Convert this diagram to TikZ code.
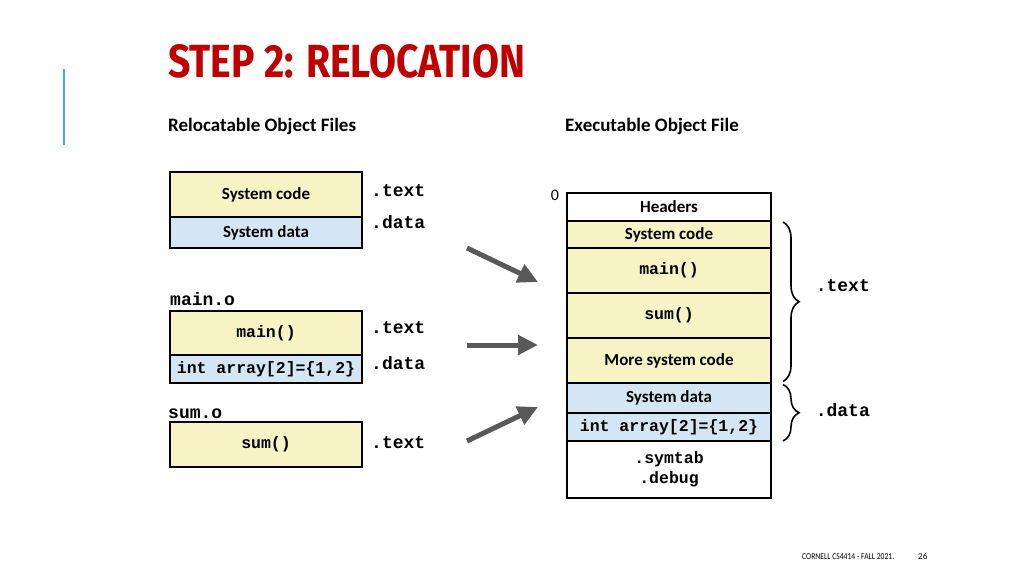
\documentclass[tikz,border=0pt]{standalone}
\usepackage{fontspec}
\setmainfont{Carlito}
\setmonofont{Liberation Mono}
\newfontfamily\titlefont{Fira Sans}
\usetikzlibrary{positioning,arrows.meta,decorations.pathreplacing}

\definecolor{codeyel}{HTML}{F7F3C4}
\definecolor{datablue}{HTML}{D4E6F4}
\definecolor{titlered}{HTML}{C00000}
\definecolor{accent}{HTML}{45AEDC}
\definecolor{arrowgray}{HTML}{595959}

\begin{document}
\begin{tikzpicture}[x=1pt,y=-1pt,
    seg/.style={draw, line width=1.6pt, inner sep=0pt, outer sep=0pt, align=center,
      font=\fontsize{17}{19}\selectfont\bfseries},
    lseg/.style={seg, minimum width=192pt},
    rseg/.style={seg, minimum width=204pt},
    code/.style={fill=codeyel},
    dat/.style={fill=datablue},
    mono/.style={font=\fontsize{16.5}{20}\selectfont\ttfamily\bfseries},
    sec/.style={font=\fontsize{18}{20}\selectfont\ttfamily\bfseries, inner sep=0pt},
    head/.style={font=\fontsize{19}{21}\selectfont\bfseries, inner sep=0pt, anchor=base west},
    brace/.style={decorate, decoration={brace, amplitude=16pt}, line width=1.6pt},
    bigarrow/.style={arrowgray, line width=5pt, -{Triangle[length=20pt,width=19pt]}}]
  \useasboundingbox[fill=white] (0,0) rectangle (1024,576);

  % title bar
  \draw[accent, line width=2pt] (64,69) -- (64,145);
  \node[anchor=north west, inner sep=0pt, text=titlered] (title) at (168,44)
    {\resizebox{357pt}{33pt}{\titlefont\bfseries STEP 2: RELOCATION}};
  \node[head] (relhead) at (168,131) {Relocatable Object Files};
  \node[head] (exehead) at (565,131) {Executable Object File};

  % relocatable object files
  \node[lseg, code, minimum height=45pt] (sysc) at (266,194.5) {System code};
  \node[lseg, dat, minimum height=31pt, below=0pt of sysc] (sysd) {System data};
  \node[sec, anchor=west] (sysct) at (371,191) {.text};
  \node[sec, anchor=west] (sysdd) at (371,222) {.data};

  \node[sec, anchor=base west] (mainlbl) at (170,305) {main.o};
  \node[lseg, code, mono, minimum height=44pt] (mainf) at (266,333) {main()};
  \node[lseg, dat, mono, minimum height=28pt, below=0pt of mainf] (arr) {int array[2]=\{1,2\}};
  \node[sec, anchor=west] (maint) at (371,328) {.text};
  \node[sec, anchor=west] (maind) at (371,363) {.data};

  \node[sec, anchor=base west] (sumlbl) at (168,418) {sum.o};
  \node[lseg, code, mono, minimum height=45pt] (sumf) at (266,444.5) {sum()};
  \node[sec, anchor=west] (sumt) at (371,443) {.text};

  % arrows
  \coordinate (a1s) at (467,248);
  \coordinate (a1e) at (538,282);
  \coordinate (a2s) at (467,345);
  \coordinate (a2e) at (538,345);
  \coordinate (a3s) at (467,441);
  \coordinate (a3e) at (538,407);
  \draw[bigarrow] (a1s) -- (a1e);
  \draw[bigarrow] (a2s) -- (a2e);
  \draw[bigarrow] (a3s) -- (a3e);

  % executable object file
  \node[font=\fontsize{16}{18}\selectfont] (zero) at (555,195) {0};
  \node[rseg, minimum height=28pt] (hdr) at (669,207) {Headers};
  \node[rseg, code, minimum height=27pt, below=0pt of hdr] (rsysc) {System code};
  \node[rseg, code, mono, minimum height=45pt, below=0pt of rsysc] (rmain) {main()};
  \node[rseg, code, mono, minimum height=45pt, below=0pt of rmain] (rsum) {sum()};
  \node[rseg, code, minimum height=45pt, below=0pt of rsum] (rmore) {More system code};
  \node[rseg, dat, minimum height=30pt, below=0pt of rmore] (rsysd) {System data};
  \node[rseg, dat, mono, minimum height=28pt, below=0pt of rsysd] (rarr) {int array[2]=\{1,2\}};
  \node[rseg, mono, minimum height=57pt, below=0pt of rarr] (rsym) {.symtab\\.debug};

  \draw[brace] ([xshift=12pt,yshift=-1pt]rsysc.north east) -- ([xshift=12pt,yshift=1.5pt]rmore.south east)
    node[sec, midway, anchor=west, xshift=32pt, yshift=16pt] (textlbl) {.text};
  \draw[brace] ([xshift=12pt,yshift=-1.5pt]rsysd.north east) -- ([xshift=12pt]rarr.south east)
    node[sec, midway, anchor=west, xshift=32pt, yshift=3pt] (datalbl) {.data};

  % footer
  \node[anchor=base west, inner sep=0pt, font=\fontsize{9}{10}\selectfont] (foot) at (802,559)
    {\scalebox{0.85}[1]{CORNELL CS4414 - FALL 2021.}};
  \node[anchor=base west, inner sep=0pt, font=\fontsize{9}{10}\selectfont] (pg) at (918,559) {26};
\end{tikzpicture}
\end{document}
